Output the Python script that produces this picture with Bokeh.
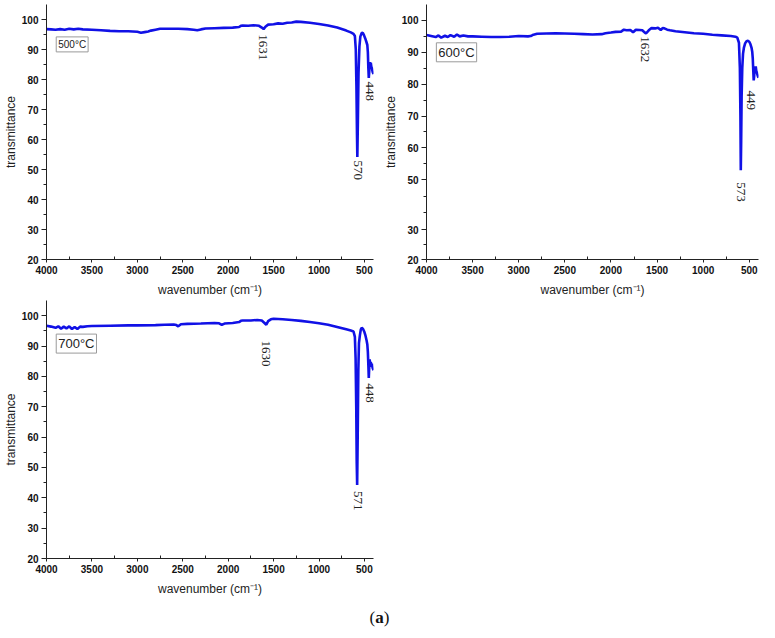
import numpy as np
from bokeh.plotting import figure
from bokeh.models import Range1d, FixedTicker, CustomJSTickFormatter, Label, Div
from bokeh.layouts import column, row
from bokeh.embed import file_html
from bokeh.resources import INLINE

# ---------------- data ----------------
wn_500 = [4000, 3950, 3900, 3850, 3800, 3750, 3700, 3650, 3600, 3500, 3400, 3300, 3200, 3100,
          3000, 2960, 2920, 2880, 2850, 2800, 2750, 2650, 2550, 2450, 2380, 2340, 2300, 2250,
          2150, 2050, 1950, 1880, 1860, 1840, 1780, 1720, 1660, 1630, 1610, 1590, 1560, 1500,
          1450, 1400, 1350, 1300, 1250, 1200, 1100, 1000, 900, 800, 700, 650, 620, 605, 595,
          588, 582, 578, 572, 565, 555, 545, 530, 518, 505, 490, 478, 468, 462, 457, 452, 447,
          442, 436, 430, 424, 418, 410, 400]
tr_500 = [96.8, 96.7, 96.6, 96.8, 96.6, 96.9, 96.7, 96.9, 96.7, 96.6, 96.4, 96.2, 96.1, 96.1,
          95.9, 95.6, 95.8, 96.0, 96.3, 96.6, 96.9, 96.9, 96.9, 96.8, 96.6, 96.4, 96.7, 97.0,
          97.1, 97.2, 97.3, 97.5, 97.9, 98.0, 97.9, 98.1, 97.9, 97.3, 96.8, 97.6, 98.3, 98.4,
          98.7, 98.6, 98.9, 99.0, 99.3, 99.2, 98.9, 98.5, 98.0, 97.3, 96.3, 95.7, 95.2, 94.5,
          90.0, 78.0, 62.0, 54.2, 66.0, 82.0, 91.0, 94.3, 95.5, 95.6, 94.8, 93.6, 92.5, 91.5,
          89.0, 84.0, 80.5, 82.5, 85.8, 84.6, 85.6, 84.3, 83.8, 82.6, 81.8]

wn_600 = [4000, 3950, 3900, 3870, 3840, 3800, 3770, 3740, 3700, 3670, 3640, 3600, 3550, 3500,
          3400, 3300, 3200, 3100, 3000, 2900, 2870, 2850, 2800, 2700, 2600, 2500, 2400, 2300,
          2200, 2100, 2060, 2000, 1950, 1890, 1860, 1830, 1790, 1760, 1730, 1690, 1660, 1640,
          1620, 1590, 1560, 1520, 1490, 1460, 1440, 1420, 1390, 1360, 1300, 1200, 1100, 1000,
          900, 800, 700, 650, 630, 612, 602, 596, 592, 588, 583, 576, 568, 558, 545, 530, 515,
          500, 488, 476, 468, 462, 457, 452, 447, 442, 436, 430, 424, 418, 410, 400]
tr_600 = [95.4, 95.1, 94.8, 95.3, 94.6, 95.2, 94.8, 95.4, 94.9, 95.6, 95.0, 95.3, 95.0, 95.0,
          94.9, 94.8, 94.8, 94.9, 95.1, 95.0, 95.1, 95.4, 95.8, 95.9, 96.0, 95.9, 95.8, 95.7,
          95.6, 95.7, 96.0, 96.2, 96.4, 96.5, 97.1, 96.9, 97.0, 96.3, 97.1, 97.0, 96.9, 96.4,
          95.9, 96.9, 97.6, 97.5, 97.7, 97.0, 97.6, 97.5, 97.1, 96.9, 96.6, 96.3, 96.0, 95.8,
          95.5, 95.3, 95.1, 94.9, 94.6, 93.0, 85.0, 70.0, 53.0, 62.0, 76.0, 85.0, 89.5, 91.5,
          92.8, 93.5, 93.6, 93.3, 92.6, 91.5, 90.2, 88.0, 84.5, 81.2, 82.5, 85.0, 84.0, 85.6,
          84.2, 83.6, 82.8, 82.0]

wn_700 = [4000, 3950, 3900, 3870, 3840, 3810, 3780, 3750, 3720, 3690, 3660, 3630, 3600, 3550,
          3500, 3300, 3100, 3000, 2800, 2700, 2600, 2570, 2550, 2520, 2450, 2300, 2150, 2100,
          2070, 2040, 1950, 1880, 1860, 1840, 1750, 1680, 1630, 1600, 1580, 1560, 1530, 1500,
          1450, 1400, 1300, 1200, 1100, 1000, 900, 800, 700, 650, 620, 605, 597, 590, 585, 580,
          574, 567, 560, 550, 540, 530, 515, 500, 488, 476, 468, 462, 457, 452, 447, 442, 436,
          430, 424, 418, 410, 400]
tr_700 = [96.7, 96.4, 96.0, 96.5, 95.7, 96.4, 95.8, 96.5, 95.6, 96.3, 95.6, 96.4, 96.3, 96.5,
          96.6, 96.7, 96.8, 96.8, 96.9, 97.0, 97.1, 96.9, 96.5, 97.2, 97.3, 97.4, 97.6, 97.5,
          97.0, 97.4, 97.6, 97.9, 98.3, 98.4, 98.4, 98.6, 98.4, 97.6, 97.0, 98.2, 98.8, 99.0,
          98.9, 98.8, 98.6, 98.3, 97.9, 97.5, 97.0, 96.3, 95.5, 95.1, 94.8, 93.0, 86.0, 70.0,
          52.0, 44.2, 60.0, 82.0, 91.0, 93.5, 95.4, 96.0, 95.6, 94.6, 93.4, 91.8, 90.5, 88.0,
          84.0, 79.5, 83.0, 85.6, 83.5, 84.8, 83.2, 84.2, 82.8, 82.0]

x_ticks = [4000, 3500, 3000, 2500, 2000, 1500, 1000, 500]
x_minor = [3750, 3250, 2750, 2250, 1750, 1250, 750]
y_ticks = [20, 30, 40, 50, 60, 70, 80, 90, 100]
y_minor = [25, 35, 45, 55, 65, 75, 85, 95]
y_ticks_600 = [20, 30, 50, 60, 70, 80, 90, 100]
y_minor_600 = [25, 36.7, 43.3, 55, 65, 75, 85, 95]

temps = ["500°C", "600°C", "700°C"]
peaks_500 = ["1631", "570", "448"]
peaks_600 = ["1632", "573", "449"]
peaks_700 = ["1630", "571", "448"]

# ---------------- styling helpers ----------------
BLUE = "#1111e6"
AXC = "#222222"
SANS = "Liberation Sans"
SERIF = "Liberation Serif"

# broken (piecewise) vertical scale of the 600 °C panel
KV = [20, 30, 50, 105]
KD = [20, 30, 46.6, 105.1]


def to_disp(v):
    return np.interp(v, KV, KD)


def make_fig(width, height, left, right, top, bottom, y_start, y_end):
    p = figure(width=width, height=height, output_backend="svg", toolbar_location=None,
               x_range=Range1d(4000, 400), y_range=Range1d(y_start, y_end),
               min_border_left=left, min_border_right=right,
               min_border_top=top, min_border_bottom=bottom)
    p.grid.visible = False
    p.outline_line_color = None
    p.background_fill_color = "white"
    p.border_fill_color = "white"
    for ax in (p.xaxis[0], p.yaxis[0]):
        ax.axis_line_color = AXC
        ax.axis_line_width = 1
        ax.major_tick_line_color = AXC
        ax.minor_tick_line_color = AXC
        ax.major_label_text_font = SANS
        ax.major_label_text_font_style = "bold"
        ax.major_label_text_font_size = "10px"
        ax.major_label_text_color = "#111111"
        ax.axis_label_text_font = SANS
        ax.axis_label_text_font_style = "normal"
        ax.axis_label_text_font_size = "12px"
        ax.axis_label_text_color = "#222222"
    xa = p.xaxis[0]
    xa.ticker = FixedTicker(ticks=x_ticks, minor_ticks=x_minor)
    xa.major_tick_out = 3
    xa.major_tick_in = 0
    xa.minor_tick_out = 0
    xa.minor_tick_in = 3
    xa.major_label_standoff = 3
    xa.axis_label = "wavenumber (cm\u207b\u00b9)"
    xa.axis_label_standoff = 6
    ya = p.yaxis[0]
    ya.major_tick_out = 5
    ya.major_tick_in = 0
    ya.minor_tick_out = 3
    ya.minor_tick_in = 0
    ya.major_label_standoff = 3
    ya.axis_label = "transmittance"
    ya.axis_label_standoff = 1
    return p


def temp_label(p, text, y, size):
    p.add_layout(Label(x=3893, y=y, text=text, text_font=SANS, text_font_size=size,
                       text_color="#222222", text_baseline="middle", text_align="left",
                       background_fill_color="white", border_line_color="#9a9a9a",
                       border_line_width=1, padding=2))


def peak_label(p, text, x, y):
    p.add_layout(Label(x=x, y=y, text=text, angle=-np.pi / 2, text_font=SERIF,
                       text_font_size="13px", text_color="#222222",
                       text_align="left", text_baseline="middle"))


# ---------------- panel 500 °C ----------------
p1 = make_fig(380, 299, 37, 7, 4, 38, 20, 105)
p1.yaxis[0].ticker = FixedTicker(ticks=y_ticks, minor_ticks=y_minor)
p1.line(wn_500, tr_500, line_width=2.6, line_color=BLUE)
temp_label(p1, temps[0], 91.7, "10px")
peak_label(p1, peaks_500[0], 1612, 95.1)
peak_label(p1, peaks_500[1], 574, 53.0)
peak_label(p1, peaks_500[2], 435, 79.3)

# ---------------- panel 600 °C (broken y scale) ----------------
p2 = make_fig(379, 299, 42, 1, 4, 38, float(to_disp(20)), float(to_disp(105)))
p2.yaxis[0].ticker = FixedTicker(ticks=[float(to_disp(v)) for v in y_ticks_600],
                                 minor_ticks=[float(to_disp(v)) for v in y_minor_600])
p2.yaxis[0].formatter = CustomJSTickFormatter(args=dict(kv=KV, kd=KD), code="""
    for (let i = 0; i < kd.length - 1; i++) {
        if (tick <= kd[i + 1] + 1e-6) {
            const t = (tick - kd[i]) / (kd[i + 1] - kd[i]);
            return Math.round(kv[i] + t * (kv[i + 1] - kv[i])).toString();
        }
    }
    return Math.round(tick).toString();
""")
p2.line(wn_600, [float(to_disp(v)) for v in tr_600], line_width=2.6, line_color=BLUE)
temp_label(p2, temps[1], float(to_disp(90)), "13px")
peak_label(p2, peaks_600[0], 1634, float(to_disp(95.0)))
peak_label(p2, peaks_600[1], 588, float(to_disp(49.0)))
peak_label(p2, peaks_600[2], 485, float(to_disp(78.0)))

# ---------------- panel 700 °C ----------------
p3 = make_fig(380, 305, 37, 7, 1, 46, 20, 105)
p3.yaxis[0].ticker = FixedTicker(ticks=y_ticks, minor_ticks=y_minor)
p3.line(wn_700, tr_700, line_width=2.6, line_color=BLUE)
temp_label(p3, temps[2], 90.8, "13px")
peak_label(p3, peaks_700[0], 1585, 91.8)
peak_label(p3, peaks_700[1], 574, 42.2)
peak_label(p3, peaks_700[2], 443, 77.7)

caption = Div(text="(<b>a</b>)", width=759, height=16, margin=(0, 0, 0, 0),
              styles={"text-align": "center", "font-family": SERIF, "font-size": "17px",
                      "line-height": "16px", "color": "#111111",
                      "position": "relative", "top": "6px"})

layout = column(row(p1, p2), p3, caption)

open("out.html", "w").write(file_html(layout, INLINE))
